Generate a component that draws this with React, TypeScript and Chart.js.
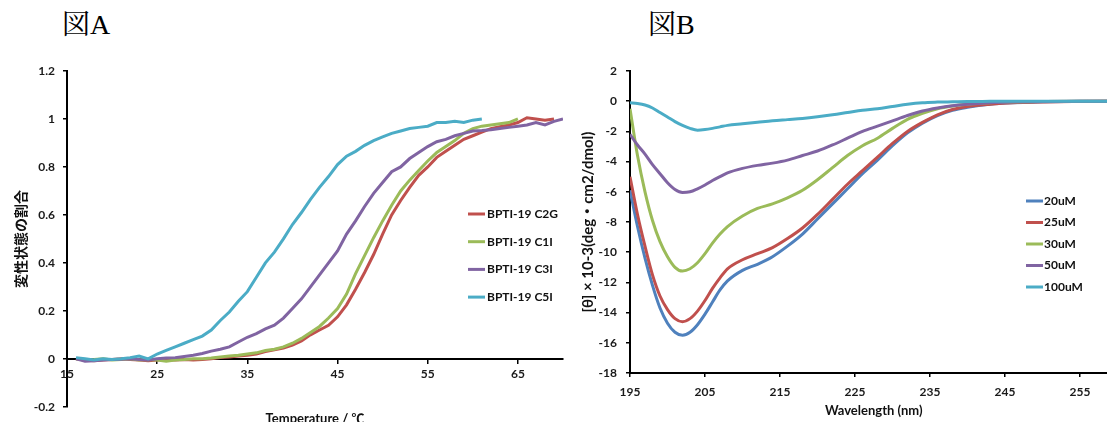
import React, { useEffect, useRef } from "react";
import { Chart, registerables } from "chart.js";

Chart.register(...registerables);

const FONT = 'Lato, "Noto Sans CJK JP", sans-serif';

// ---------- 図A : fraction denatured vs temperature ----------
const temperatureC = [
  16, 17, 18, 19, 20, 21, 22, 23, 24, 25, 26, 27, 28, 29, 30, 31, 32, 33, 34, 35,
  36, 37, 38, 39, 40, 41, 42, 43, 44, 45, 46, 47, 48, 49, 50, 51, 52, 53, 54, 55,
  56, 57, 58, 59, 60, 61, 62, 63, 64, 65, 66, 67, 68, 69, 70,
];
const seriesANames = ["BPTI-19 C2G", "BPTI-19 C1I", "BPTI-19 C3I", "BPTI-19 C5I"];
const c2g = [
  0.0, -0.005, -0.008, -0.005, -0.003, 0.0, -0.003, -0.005, -0.008, -0.005,
  -0.003, -0.005, -0.003, -0.005, -0.003, 0.0, 0.005, 0.008, 0.012, 0.015,
  0.02, 0.03, 0.038, 0.045, 0.057, 0.075, 0.1, 0.12, 0.14, 0.175,
  0.225, 0.29, 0.36, 0.435, 0.52, 0.6, 0.66, 0.715, 0.765, 0.8,
  0.84, 0.865, 0.89, 0.915, 0.93, 0.945, 0.96, 0.968, 0.975, 0.985,
  1.005, 1.0, 0.995, 1.0, null,
];
const c1i = [
  0.0, -0.005, -0.003, 0.0, -0.005, -0.003, 0.0, -0.005, -0.003, -0.005,
  -0.01, -0.005, -0.003, 0.0, 0.0, 0.003, 0.008, 0.012, 0.015, 0.02,
  0.025, 0.035, 0.04, 0.05, 0.065, 0.085, 0.11, 0.135, 0.17, 0.21,
  0.27, 0.355, 0.43, 0.505, 0.575, 0.64, 0.7, 0.745, 0.785, 0.825,
  0.86, 0.885, 0.91, 0.94, 0.96, 0.97, 0.975, 0.98, 0.985, 1.0,
  null, null, null, null, null,
];
const c3i = [
  0.0, -0.01, -0.008, -0.005, -0.003, -0.002, 0.0, -0.003, -0.005, 0.0,
  0.003, 0.005, 0.01, 0.015, 0.022, 0.032, 0.04, 0.05, 0.07, 0.09,
  0.105, 0.125, 0.14, 0.17, 0.21, 0.25, 0.3, 0.35, 0.4, 0.45,
  0.52, 0.575, 0.635, 0.69, 0.735, 0.78, 0.8, 0.835, 0.86, 0.885,
  0.905, 0.915, 0.93, 0.94, 0.95, 0.952, 0.955, 0.96, 0.965, 0.97,
  0.975, 0.985, 0.975, 0.99, 1.0,
];
const c5i = [
  0.005, 0.0, -0.005, 0.0, -0.003, 0.0, 0.005, 0.012, 0.0, 0.02,
  0.035, 0.05, 0.065, 0.08, 0.095, 0.12, 0.16, 0.195, 0.24, 0.28,
  0.34, 0.4, 0.445, 0.5, 0.56, 0.61, 0.665, 0.715, 0.76, 0.81,
  0.845, 0.865, 0.89, 0.91, 0.925, 0.94, 0.95, 0.96, 0.965, 0.97,
  0.985, 0.985, 0.99, 0.985, 0.995, 1.0, null, null, null, null,
  null, null, null, null, null,
];
const seriesAColors = ["#C0504D", "#9BBB59", "#8064A2", "#4BACC6"];
const xTicksA = [15, 25, 35, 45, 55, 65];
const yTicksA = [-0.2, 0, 0.2, 0.4, 0.6, 0.8, 1, 1.2];
const yTickLabelsA = ["-0.2", "0", "0.2", "0.4", "0.6", "0.8", "1", "1.2"];

// ---------- 図B : CD spectra ----------
const wavelengthNm = [
  195, 196, 197, 198, 199, 200, 201, 202, 203, 204, 205, 206, 207, 208,
  210, 212, 214, 216, 218, 220, 222, 224, 226, 228, 230, 232, 234, 236, 238, 240,
  243, 246, 250, 255, 260,
];
const seriesBNames = ["20uM", "25uM", "30uM", "50uM", "100uM"];
const uM20 = [
  -5.9, -8.3, -10.4, -12.2, -13.7, -14.7, -15.3, -15.5, -15.3, -14.8, -14.1, -13.3, -12.5, -11.9,
  -11.2, -10.8, -10.3, -9.6, -8.8, -7.8, -6.8, -5.8, -4.8, -3.9, -2.95, -2.1, -1.45, -0.95, -0.6, -0.4,
  -0.2, -0.1, -0.04, 0, 0,
];
const uM25 = [
  -5.0, -7.5, -9.6, -11.5, -12.9, -13.8, -14.4, -14.6, -14.4, -13.9, -13.2, -12.4, -11.7, -11.1,
  -10.5, -10.1, -9.7, -9.1, -8.4, -7.5, -6.5, -5.5, -4.6, -3.7, -2.8, -2.0, -1.4, -0.9, -0.55, -0.35,
  -0.2, -0.1, -0.05, -0.02, 0,
];
const uM30 = [
  -0.5, -3.6, -6.0, -7.9, -9.3, -10.3, -11.0, -11.25, -11.1, -10.7, -10.1, -9.4, -8.8, -8.3,
  -7.6, -7.1, -6.8, -6.4, -5.9, -5.2, -4.4, -3.6, -2.95, -2.45, -1.8, -1.2, -0.8, -0.5, -0.32, -0.2,
  -0.1, -0.05, -0.02, 0, 0,
];
const uM50 = [
  -2.2, -2.9, -3.5, -4.2, -4.8, -5.4, -5.85, -6.05, -6.0, -5.8, -5.55, -5.25, -5.0, -4.75,
  -4.45, -4.25, -4.1, -3.9, -3.6, -3.3, -2.9, -2.45, -2.0, -1.65, -1.3, -0.95, -0.65, -0.45, -0.3, -0.2,
  -0.1, -0.05, -0.02, 0, 0,
];
const uM100 = [
  -0.1, -0.15, -0.25, -0.45, -0.75, -1.05, -1.35, -1.6, -1.8, -1.92, -1.88, -1.8, -1.7, -1.6,
  -1.5, -1.4, -1.3, -1.22, -1.14, -1.03, -0.9, -0.75, -0.6, -0.5, -0.35, -0.2, -0.1, -0.06, -0.04, -0.02,
  -0.01, 0, 0, 0, 0,
];
const seriesBColors = ["#4F81BD", "#C0504D", "#9BBB59", "#8064A2", "#4BACC6"];
const xTicksB = [195, 205, 215, 225, 235, 245, 255];
const yTicksB = [-18, -16, -14, -12, -10, -8, -6, -4, -2, 0, 2];
const yTickLabelsB = ["-18", "-16", "-14", "-12", "-10", "-8", "-6", "-4", "-2", "0", "2"];

const lineLegend = {
  id: "lineLegend",
  afterDatasetsDraw(chart: any, _args: any, opts: any) {
    const ctx = chart.ctx;
    chart.data.datasets.forEach((ds: any, i: number) => {
      const y = opts.y + i * opts.gap;
      ctx.save();
      ctx.strokeStyle = ds.borderColor;
      ctx.lineWidth = 3;
      ctx.beginPath();
      ctx.moveTo(opts.x, y);
      ctx.lineTo(opts.x + opts.len, y);
      ctx.stroke();
      ctx.fillStyle = "#111";
      ctx.font = opts.font;
      ctx.textBaseline = "middle";
      ctx.textAlign = "left";
      ctx.fillText(ds.label, opts.x + opts.len + opts.textGap, y);
      ctx.restore();
    });
  },
};

const tickFont = { family: FONT, size: 12, weight: "bold" as const };

function makeDataset(label: string, color: string, xs: number[], ys: (number | null)[], order: number, smooth: boolean) {
  const pts: { x: number; y: number }[] = [];
  xs.forEach((x, i) => {
    const v = ys[i];
    if (v !== null && v !== undefined) pts.push({ x, y: v });
  });
  return {
    label,
    data: pts,
    borderColor: color,
    backgroundColor: color,
    borderWidth: 3,
    pointRadius: 0,
    fill: false,
    order,
    tension: 0,
    cubicInterpolationMode: smooth ? ("monotone" as const) : ("default" as const),
  };
}

export default function App() {
  const refA = useRef<HTMLCanvasElement | null>(null);
  const refB = useRef<HTMLCanvasElement | null>(null);

  useEffect(() => {
    const seriesA = [c2g, c1i, c3i, c5i];
    const chartA = new Chart(refA.current!, {
      type: "line",
      data: {
        datasets: seriesA.map((s, i) =>
          makeDataset(seriesANames[i], seriesAColors[i], temperatureC, s, seriesA.length - i, false)
        ),
      },
      plugins: [lineLegend],
      options: {
        responsive: false,
        animation: false,
        devicePixelRatio: 1,
        layout: { padding: { left: 0, right: 12, top: 71, bottom: 0 } },
        plugins: {
          legend: { display: false },
          tooltip: { enabled: false },
          lineLegend: { x: 468, y: 214, gap: 27.7, len: 17, textGap: 2, font: `bold 12px ${FONT}` },
        } as any,
        scales: {
          x: {
            type: "linear",
            position: { y: 0 } as any,
            min: 15,
            max: 70,
            afterBuildTicks: (s: any) => {
              s.ticks = xTicksA.map((v) => ({ value: v }));
            },
            afterFit: (s: any) => {
              s.height = 68;
            },
            ticks: { font: tickFont, color: "#1a1a1a", padding: 4, maxRotation: 0, autoSkip: false },
            grid: { display: true, drawOnChartArea: false, drawTicks: true, tickLength: 4, color: "#000", lineWidth: 1.5 },
            border: { display: true, color: "#000", width: 2 },
            title: {
              display: true,
              text: "Temperature / ℃",
              font: { family: FONT, size: 13, weight: "bold" },
              color: "#111",
              padding: { top: 0, bottom: 0 },
            },
          },
          y: {
            type: "linear",
            position: "left",
            min: -0.2,
            max: 1.2,
            afterBuildTicks: (s: any) => {
              s.ticks = yTicksA.map((v) => ({ value: v }));
            },
            afterFit: (s: any) => {
              s.width = 67;
            },
            ticks: {
              font: tickFont,
              color: "#1a1a1a",
              padding: 8,
              autoSkip: false,
              callback: (_v: any, i: number) => yTickLabelsA[i],
            },
            grid: { display: true, drawOnChartArea: false, drawTicks: true, tickLength: 4, color: "#000", lineWidth: 1.5 },
            border: { display: true, color: "#000", width: 2 },
            title: {
              display: true,
              text: "変性状態の割合",
              font: { family: '"Noto Sans CJK JP", sans-serif', size: 14, weight: "bold" },
              color: "#111",
              padding: { top: 12, bottom: 0 },
            },
          },
        },
      },
    });

    const seriesB = [uM20, uM25, uM30, uM50, uM100];
    const chartB = new Chart(refB.current!, {
      type: "line",
      data: {
        datasets: seriesB.map((s, i) =>
          makeDataset(seriesBNames[i], seriesBColors[i], wavelengthNm, s, seriesB.length - i, true)
        ),
      },
      plugins: [lineLegend],
      options: {
        responsive: false,
        animation: false,
        devicePixelRatio: 1,
        layout: { padding: { left: 0, right: 2.5, top: 71, bottom: 0 } },
        plugins: {
          legend: { display: false },
          tooltip: { enabled: false },
          lineLegend: { x: 451, y: 201, gap: 21.5, len: 17, textGap: 1, font: `bold 12px ${FONT}` },
        } as any,
        scales: {
          x: {
            type: "linear",
            position: "bottom",
            min: 195,
            max: 260,
            afterBuildTicks: (s: any) => {
              s.ticks = xTicksB.map((v) => ({ value: v }));
            },
            afterFit: (s: any) => {
              s.height = 50;
            },
            ticks: { font: tickFont, color: "#1a1a1a", padding: 8, maxRotation: 0, autoSkip: false },
            grid: { display: true, drawOnChartArea: false, drawTicks: true, tickLength: 4, color: "#000", lineWidth: 1.5 },
            border: { display: true, color: "#000", width: 2 },
            title: {
              display: true,
              text: "Wavelength (nm)",
              font: { family: FONT, size: 13, weight: "bold" },
              color: "#111",
              padding: { top: 0, bottom: 4 },
            },
          },
          y: {
            type: "linear",
            position: "left",
            min: -18,
            max: 2,
            afterBuildTicks: (s: any) => {
              s.ticks = yTicksB.map((v) => ({ value: v }));
            },
            afterFit: (s: any) => {
              s.width = 55;
            },
            ticks: {
              font: tickFont,
              color: "#1a1a1a",
              padding: 9,
              autoSkip: false,
              callback: (_v: any, i: number) => yTickLabelsB[i],
            },
            grid: { display: true, drawOnChartArea: false, drawTicks: true, tickLength: 4, color: "#000", lineWidth: 1.5 },
            border: { display: true, color: "#000", width: 2 },
            title: {
              display: true,
              text: "[θ] × 10-3(deg・cm2/dmol)",
              font: { family: FONT, size: 15, weight: "bold" },
              color: "#111",
              padding: { top: 4, bottom: 0 },
            },
          },
        },
      },
    });

    return () => {
      chartA.destroy();
      chartB.destroy();
    };
  }, []);

  const headStyle: React.CSSProperties = {
    position: "absolute",
    top: 10,
    font: '28px "Liberation Serif", "Noto Serif CJK JP", "Noto Sans CJK JP", serif',
    lineHeight: "30px",
    color: "#000",
    whiteSpace: "nowrap",
  };

  return (
    <div
      style={{
        position: "fixed",
        left: 0,
        top: 0,
        width: 1107,
        height: 422,
        overflow: "hidden",
        background: "#fff",
      }}
    >
      <div style={{ ...headStyle, left: 62 }}>図A</div>
      <div style={{ ...headStyle, left: 648 }}>図B</div>
      <canvas ref={refA} width={575} height={422} style={{ position: "absolute", left: 0, top: 0 }} />
      <canvas ref={refB} width={545} height={423} style={{ position: "absolute", left: 575, top: 0 }} />
    </div>
  );
}
